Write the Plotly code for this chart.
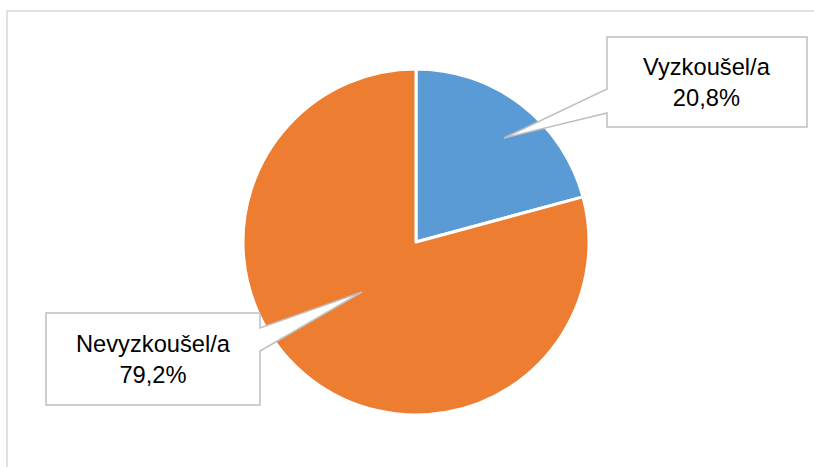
import plotly.graph_objects as go

# Share of respondents who have / have not tried it
labels = ["Vyzkoušel/a", "Nevyzkoušel/a"]
values = [20.8, 79.2]
colors = ["#5B9BD5", "#ED7D31"]

W, H = 814, 467

def pct(v):
    return f"{v:.1f}".replace(".", ",") + "%"

fig = go.Figure()

# Pie centred at (416, 242) px; domain a little larger than the drawn radius
cx, cy, r = 416, 242, 173
fig.add_trace(go.Pie(
    labels=labels,
    values=values,
    sort=False,
    direction="clockwise",
    rotation=0,
    marker=dict(colors=colors, line=dict(color="white", width=3)),
    textinfo="none",
    hoverinfo="label+percent",
    showlegend=False,
    domain=dict(x=[(cx - r) / W, (cx + r) / W],
                y=[(H - cy - r) / H, (H - cy + r) / H]),
))

# Invisible pixel-space axes used to place callouts
fig.update_xaxes(range=[0, W], visible=False, fixedrange=True)
fig.update_yaxes(range=[H, 0], visible=False, fixedrange=True)

def callout(box, side, notch, tip):
    x0, y0, x1, y1 = box
    ya, yb = notch
    tx, ty = tip
    if side == "left":
        path = (f"M {x0},{y0} L {x1},{y0} L {x1},{y1} L {x0},{y1} "
                f"L {x0},{yb} L {tx},{ty} L {x0},{ya} Z")
    else:
        path = (f"M {x0},{y0} L {x1},{y0} L {x1},{ya} L {tx},{ty} "
                f"L {x1},{yb} L {x1},{y1} L {x0},{y1} Z")
    fig.add_shape(type="path", path=path, xref="x", yref="y",
                  fillcolor="white", line=dict(color="#BFBFBF", width=1.5),
                  layer="above")

# Chart frame
fig.add_shape(type="rect", xref="x", yref="y", x0=7, y0=11, x1=W + 20, y1=H + 20,
              line=dict(color="#D9D9D9", width=1.5), fillcolor="rgba(0,0,0,0)",
              layer="below")

boxes = [
    dict(box=(607, 37, 807, 127), side="left", notch=(89, 113), tip=(504, 138)),
    dict(box=(46, 313, 260, 405), side="right", notch=(328, 351), tip=(362, 292)),
]
for lab, val, b in zip(labels, values, boxes):
    callout(b["box"], b["side"], b["notch"], b["tip"])
    x0, y0, x1, y1 = b["box"]
    fig.add_annotation(
        x=(x0 + x1) / 2, y=(y0 + y1) / 2, xref="x", yref="y",
        text=f"{lab}<br>{pct(val)}", showarrow=False,
        font=dict(family="Liberation Sans, Arial, sans-serif", size=23.7, color="#000000"),
        xanchor="center", yanchor="middle", align="center",
    )

fig.update_layout(
    width=W, height=H,
    margin=dict(l=0, r=0, t=0, b=0),
    paper_bgcolor="white", plot_bgcolor="white",
)

fig.write_html("out.html")
